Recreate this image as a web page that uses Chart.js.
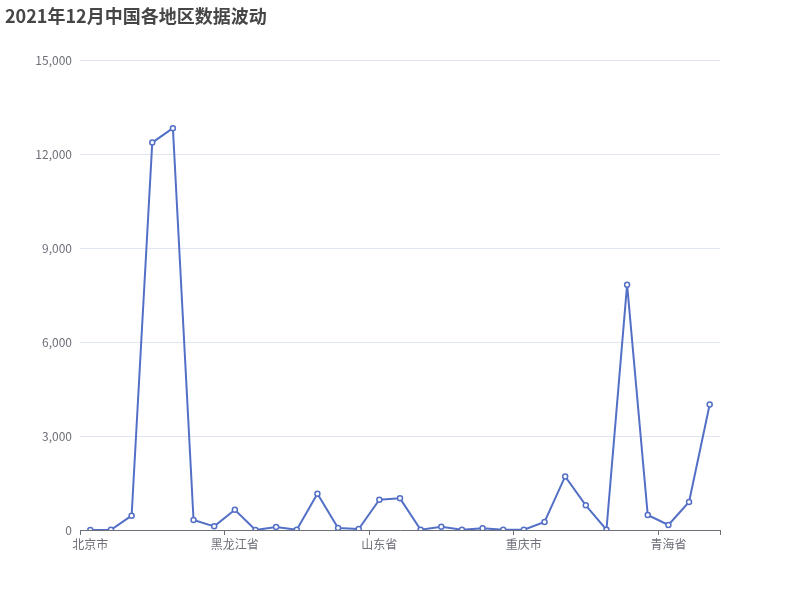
<!DOCTYPE html>
<html>
<head>
<meta charset="utf-8">
<script src="https://cdn.jsdelivr.net/npm/chart.js@4/dist/chart.umd.min.js"></script>
<style>
html,body{margin:0;padding:0;background:#fff;}
#wrap{width:800px;height:600px;}
</style>
</head>
<body>
<div id="wrap"><canvas id="c" width="800" height="600"></canvas></div>
<script>
let provinces = ['北京市','天津市','河北省','山西省','内蒙古自治区','辽宁省','吉林省','黑龙江省',
  '上海市','江苏省','浙江省','安徽省','福建省','江西省','山东省','河南省','湖北省','湖南省',
  '广东省','广西壮族自治区','海南省','重庆市','四川省','贵州省','云南省','西藏自治区','陕西省',
  '甘肃省','青海省','宁夏回族自治区','新疆维吾尔自治区'];
let vals = [0, 5, 457, 12380, 12840, 319, 117, 648, 0, 96, 8, 1159, 64, 32, 968, 1011,
  8, 105, 8, 53, 8, 8, 255, 1713, 787, 8, 7841, 479, 160, 894, 4011];
let yTicks = [0, 3000, 6000, 9000, 12000, 15000];

let fnt = "'Noto Sans CJK SC', 'Noto Sans', sans-serif";
let axisc = '#6e7079';

const ctx = document.getElementById('c').getContext('2d');
let chrt = new Chart(ctx, {
  type: 'line',
  data: {
    labels: provinces,
    datasets: [{
      label: '数据',
      data: vals,
      borderColor: '#5470c6',
      borderWidth: 2,
      pointRadius: 2.5,
      pointBorderWidth: 1.5,
      pointBackgroundColor: '#fff',
      pointBorderColor: '#5470c6',
      tension: 0,
      fill: false
    }]
  },
  options: {
    responsive: false,
    animation: false,
    layout: { padding: { left: 5, right: 80, top: 5, bottom: 0 } },
    plugins: {
      legend: { display: false },
      tooltip: { enabled: false },
      title: {
        display: true,
        text: '2021年12月中国各地区数据波动',
        align: 'start',
        color: '#464646',
        font: { family: fnt, size: 18, weight: 'bold' },
        padding: { top: 0, bottom: 34 }
      }
    },
    scales: {
      x: {
        offset: true,
        border: { color: axisc, width: 1 },
        grid: {
          offset: true,
          drawOnChartArea: false,
          drawTicks: true,
          tickLength: 5,
          tickWidth: 1,
          tickColor: function(c) {
            if (c.index === undefined || c.index % 7 === 0) return axisc;
            return 'rgba(0,0,0,0)';
          }
        },
        ticks: {
          autoSkip: false,
          maxRotation: 0,
          color: axisc,
          font: { family: fnt, size: 12 },
          padding: 2,
          callback: function(v, i) { return i % 7 === 0 ? provinces[i] : ''; }
        },
        afterFit: function(s) { s.height = 70; }
      },
      y: {
        min: 0,
        max: 15000,
        border: { display: false },
        grid: { color: '#e0e6f1', drawTicks: false },
        afterBuildTicks: function(s) { s.ticks = yTicks.map(v => ({ value: v })); },
        ticks: {
          color: axisc,
          font: { family: fnt, size: 12 },
          padding: 8,
          callback: function(v) { return v.toLocaleString('en-US'); }
        },
        afterFit: function(s) { s.width = 75; }
      }
    }
  }
});
</script>
</body>
</html>
